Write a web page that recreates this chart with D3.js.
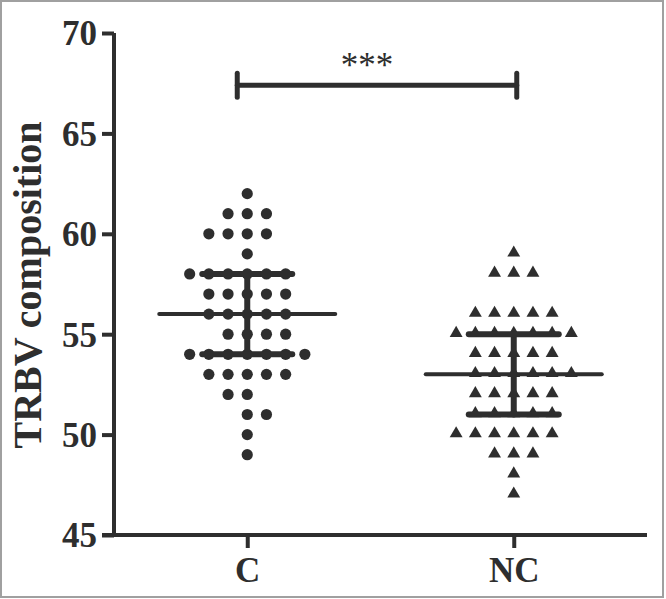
<!DOCTYPE html>
<html>
<head>
<meta charset="utf-8">
<script src="https://cdn.jsdelivr.net/npm/d3@7"></script>
<style>
  html, body { margin: 0; padding: 0; background: #fff; }
  svg { display: block; }
</style>
</head>
<body>
<svg id="chart" width="666" height="599"></svg>
<script>
// groups on the x axis
const groups = ["C", "NC"]
// TRBV composition values, one entry per subject
const valuesC = [
  62,
  61, 61, 61,
  60, 60, 60, 60,
  59,
  58, 58, 58, 58, 58, 58,
  57, 57, 57, 57, 57,
  56, 56, 56, 56, 56,
  55, 55, 55, 55,
  54, 54, 54, 54, 54, 54, 54,
  53, 53, 53, 53, 53,
  52, 52,
  51, 51,
  50,
  49
]
const valuesNC = [
  59,
  58, 58, 58,
  56, 56, 56, 56, 56,
  55, 55, 55, 55, 55, 55, 55,
  54, 54, 54, 54, 54,
  53, 53, 53, 53, 53, 53,
  52, 52, 52, 52, 52,
  51, 51, 51, 51, 51,
  50, 50, 50, 50, 50, 50,
  49, 49, 49,
  48,
  47
]
// mean and SD lines as drawn
const means = [56, 53]
const sdLow = [54, 51]
const sdHigh = [58, 55]
const yTicks = [45, 50, 55, 60, 65, 70]
const yTitle = "TRBV composition"
const sigLabel = "***"
const sigLevel = 67.4

// rows with an even count that lean right in the swarm
const rightLean = { C: [55, 51], NC: [53] }

const ink = "#2e2e2e"
const serif = "'Liberation Serif', 'Times New Roman', serif"

const svg = d3.select("#chart")

// frame round the picture
svg.append("rect")
  .attr("x", 1).attr("y", 1)
  .attr("width", 662).attr("height", 596)
  .attr("fill", "none")
  .attr("stroke", "#a0a0a0")
  .attr("stroke-width", 2)

const x = d3.scalePoint().domain(groups).range([114, 647]).padding(0.5)
const y = d3.scaleLinear().domain([45, 70]).range([535, 33])

const step = 19.2 // horizontal gap between neighbours in the swarm

// simple swarm: points sharing a value spread out from the centre
function swarm(values, group) {
  let counts = d3.rollup(values, v => v.length, d => d)
  let seen = new Map()
  return values.map(v => {
    let n = counts.get(v)
    let i = seen.get(v) || 0
    seen.set(v, i + 1)
    let off
    if (n % 2 === 1) {
      off = i - (n - 1) / 2
    } else {
      let lean = rightLean[group].indexOf(v) > -1 ? 1 : 0
      off = i - n / 2 + lean
    }
    return { group: group, value: v, dx: off * step }
  })
}

const pointsC = swarm(valuesC, "C")
const pointsNC = swarm(valuesNC, "NC")

// y axis
const yAxis = svg.append("g")
  .attr("transform", "translate(114,0)")
  .call(d3.axisLeft(y).tickValues(yTicks).tickSize(12).tickSizeOuter(0).tickPadding(5))
yAxis.select(".domain").attr("stroke", ink).attr("stroke-width", 4)
  .attr("d", `M0,${y(45)}V${y(70)}`)
yAxis.selectAll(".tick line").attr("stroke", ink).attr("stroke-width", 4)
yAxis.selectAll(".tick text")
  .attr("fill", ink)
  .attr("font-family", serif)
  .attr("font-weight", "bold")
  .attr("font-size", 35)
  .attr("dy", "0.34em")

// x axis
const xAxis = svg.append("g")
  .attr("transform", `translate(0,${y(45)})`)
  .call(d3.axisBottom(x).tickSize(13).tickSizeOuter(0).tickPadding(8))
xAxis.select(".domain").attr("stroke", ink).attr("stroke-width", 4)
  .attr("d", "M102,0H647")
xAxis.selectAll(".tick line").attr("stroke", ink).attr("stroke-width", 4)
xAxis.selectAll(".tick text")
  .attr("fill", ink)
  .attr("font-family", serif)
  .attr("font-weight", "bold")
  .attr("font-size", 35)
  .attr("dy", "0.75em")

// y title
svg.append("text")
  .attr("transform", `translate(41,${(y(45) + y(70)) / 2 + 1}) rotate(-90)`)
  .attr("text-anchor", "middle")
  .attr("fill", ink)
  .attr("font-family", serif)
  .attr("font-weight", "bold")
  .attr("font-size", 40)
  .text(yTitle)

// points
svg.append("g").selectAll("circle")
  .data(pointsC)
  .enter().append("circle")
  .attr("cx", d => x(d.group) + d.dx)
  .attr("cy", d => y(d.value))
  .attr("r", 5.6)
  .attr("fill", ink)

const tri = d3.symbol().type(d3.symbolTriangle).size(72)
svg.append("g").selectAll("path")
  .data(pointsNC)
  .enter().append("path")
  .attr("d", tri)
  .attr("transform", d => `translate(${x(d.group) + d.dx},${y(d.value) - 1})`)
  .attr("fill", ink)

// mean and SD
const stats = groups.map((g, i) => ({ group: g, mean: means[i], lo: sdLow[i], hi: sdHigh[i] }))
const statG = svg.append("g").attr("stroke", ink).attr("stroke-linecap", "round")
stats.forEach(s => {
  let cx = x(s.group)
  statG.append("line")
    .attr("x1", cx - 88).attr("x2", cx + 88)
    .attr("y1", y(s.mean)).attr("y2", y(s.mean))
    .attr("stroke-width", 4)
  statG.append("line")
    .attr("x1", cx).attr("x2", cx)
    .attr("y1", y(s.lo)).attr("y2", y(s.hi))
    .attr("stroke-width", 6)
  ;[s.lo, s.hi].forEach(v => {
    statG.append("line")
      .attr("x1", cx - 45).attr("x2", cx + 45)
      .attr("y1", y(v)).attr("y2", y(v))
      .attr("stroke-width", 6)
  })
})

// significance bracket
const bx1 = x("C") - 10, bx2 = x("NC") + 3
const by = y(sigLevel)
const br = svg.append("g").attr("stroke", ink).attr("stroke-linecap", "round")
br.append("line").attr("x1", bx1).attr("x2", bx2).attr("y1", by).attr("y2", by).attr("stroke-width", 5)
br.append("line").attr("x1", bx1).attr("x2", bx1).attr("y1", by - 12).attr("y2", by + 12).attr("stroke-width", 5)
br.append("line").attr("x1", bx2).attr("x2", bx2).attr("y1", by - 12).attr("y2", by + 12).attr("stroke-width", 5)
svg.append("text")
  .attr("x", (bx1 + bx2) / 2 - 10)
  .attr("y", by - 8)
  .attr("text-anchor", "middle")
  .attr("fill", ink)
  .attr("font-family", serif)
  .attr("font-size", 35)
  .text(sigLabel)
</script>
</body>
</html>
